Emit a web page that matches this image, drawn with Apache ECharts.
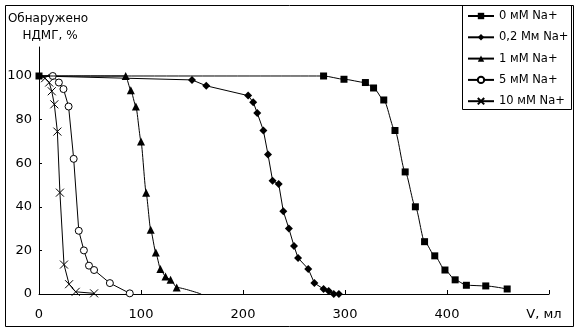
<!DOCTYPE html>
<html><head><meta charset="utf-8">
<script src="https://cdn.jsdelivr.net/npm/echarts@6/dist/echarts.min.js"></script>
<style>html,body{margin:0;padding:0;background:#fff}#c{width:579px;height:333px}</style>
</head><body><div id="c"></div>
<script>
const seriesNames = ['0 мМ Na+', '0,2 Мм Na+', '1 мМ Na+', '5 мМ Na+', '10 мМ Na+'];
const xTicks = [0, 100, 200, 300, 400, 500];
const yTicks = [0, 20, 40, 60, 80, 100];
const xEndLabel = 'V, мл';
const yTitle1 = 'Обнаружено';
const yTitle2 = 'НДМГ, %';

const vol0 = [0, 279, 299, 320, 328, 338, 349, 359, 369, 378, 388, 398, 408, 419, 438, 459];
const pct0 = [100, 100, 98.5, 97, 94.5, 89, 75, 56, 40, 24, 17.5, 11, 6.5, 4, 3.7, 2.3];
const vol02 = [0, 150, 164, 205, 210, 214, 220, 224.5, 229, 235, 239.5, 245, 250, 254, 264, 270, 279, 284, 289, 294];
const pct02 = [100, 98.2, 95.5, 91, 88, 83, 75, 64, 52, 50.5, 38, 30, 22, 16.5, 11.5, 5, 2.3, 1.4, 0, 0];
const vol1 = [0, 85, 90, 95, 100, 105, 109.5, 114.5, 119, 124, 129, 135, 159];
const pct1 = [100, 100, 93.5, 86, 70, 46.5, 29.5, 19, 11.5, 8, 6.5, 3, 0];
const vol5 = [0, 13.5, 19.5, 24, 29, 34, 39, 44, 49, 54, 69.5, 89];
const pct5 = [100, 100, 97, 94, 86, 62, 29, 20, 13, 11, 5, 0.3];
const vol10 = [0, 6, 10, 12.5, 15, 18, 20.5, 24.5, 29.5, 36, 54];
const pct10 = [100, 99, 97, 93, 87, 74.5, 46.5, 13.5, 4.5, 1, 0.3];

const FONT = 'DejaVu Sans';
function pairs(xs, ys, hideFirst, hideLast) {
  return xs.map((x, i) => {
    const v = [x, ys[i]];
    if ((hideFirst && i === 0) || (hideLast && i === xs.length - 1)) return { value: v, symbol: 'none' };
    return v;
  });
}

const xSym = 'path://M0,0L10,10M10,0L0,10';
const base = { type: 'line', showAllSymbol: true, lineStyle: { color: '#000', width: 1 }, emphasis: { disabled: true }, animation: false };

const series = [
  Object.assign({}, base, { name: seriesNames[0], z: 5, data: pairs(vol0, pct0), symbol: 'rect', symbolSize: 7, smooth: 0.25, smoothMonotone: 'x', itemStyle: { color: '#000' } }),
  Object.assign({}, base, { name: seriesNames[1], data: pairs(vol02, pct02, true), symbol: 'diamond', symbolSize: 8, itemStyle: { color: '#000' } }),
  Object.assign({}, base, { name: seriesNames[2], data: pairs(vol1, pct1, true, true), symbol: 'triangle', symbolSize: 8, smooth: 0.2, smoothMonotone: 'x', itemStyle: { color: '#000' } }),
  Object.assign({}, base, { name: seriesNames[3], data: pairs(vol5, pct5, true), symbol: 'circle', symbolSize: 7, itemStyle: { color: '#fff', borderColor: '#000', borderWidth: 1 } }),
  Object.assign({}, base, { name: seriesNames[4], data: pairs(vol10, pct10, true), symbol: xSym, symbolSize: 8, itemStyle: { color: 'rgba(0,0,0,0)', borderColor: '#000', borderWidth: 1 } })
];

const chart = echarts.init(document.getElementById('c'), null, { renderer: 'canvas' });
chart.setOption({
  animation: false,
  backgroundColor: '#fff',
  textStyle: { fontFamily: FONT, color: '#000' },
  grid: { left: 39, right: 30, top: 47, bottom: 39 },
  xAxis: {
    type: 'value', min: 0, max: 500, interval: 100,
    axisLine: { lineStyle: { color: '#000', width: 1 } },
    axisTick: { inside: true, length: 4, lineStyle: { color: '#000' }, customValues: xTicks },
    axisLabel: { customValues: xTicks, margin: 14, fontSize: 13, color: '#000', fontFamily: FONT,
      formatter: v => (v === 500 ? '{e|' + xEndLabel + '}' : String(v)),
      rich: { e: { fontSize: 13, fontFamily: FONT, color: '#000', padding: [0, 10, 0, 0] } } },
    splitLine: { show: false }
  },
  yAxis: {
    type: 'value', min: 0, max: 113.3, interval: 20,
    axisLine: { show: true, lineStyle: { color: '#000', width: 1 } },
    axisTick: { show: true, inside: true, length: 3, lineStyle: { color: '#000' }, customValues: yTicks },
    axisLabel: { customValues: yTicks, margin: 7, fontSize: 13, color: '#000', fontFamily: FONT },
    splitLine: { show: false }
  },
  legend: {
    orient: 'vertical', left: 467, top: 9, padding: 0,
    itemWidth: 26, itemHeight: 8, itemGap: 7.3,
    textStyle: { fontSize: 11.5, fontFamily: FONT, color: '#000', lineHeight: 14 },
    data: seriesNames
  },
  graphic: [
    { type: 'rect', shape: { x: 5.5, y: 5.5, width: 568, height: 321 }, style: { fill: 'none', stroke: '#000', lineWidth: 1 }, silent: true },
    { type: 'rect', shape: { x: 462.5, y: 5.5, width: 109, height: 104 }, style: { fill: 'none', stroke: '#000', lineWidth: 1 }, silent: true },
    { type: 'text', x: 48, y: 19, style: { text: yTitle1, font: '12px "DejaVu Sans"', fill: '#000', textAlign: 'center', textVerticalAlign: 'middle' } },
    { type: 'text', x: 50, y: 36, style: { text: yTitle2, font: '12px "DejaVu Sans"', fill: '#000', textAlign: 'center', textVerticalAlign: 'middle' } }
  ],
  series: series
});
</script></body></html>
